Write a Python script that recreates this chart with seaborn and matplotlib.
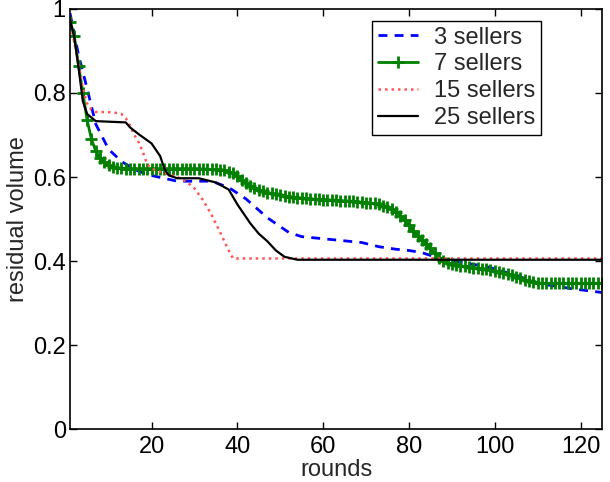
import numpy as np
import pandas as pd
import matplotlib
matplotlib.use("Agg")
import matplotlib.pyplot as plt
import seaborn as sns

# 3 sellers (blue dashed)
blue_rounds = [1, 2, 3, 5, 7, 10, 13, 16, 19, 22, 26, 34, 38, 42, 47, 50, 52, 55, 62,
               69, 73, 77, 80, 83, 86, 88, 92, 98, 102, 106, 111, 118, 125]
blue_vals = [0.99, 0.94, 0.89, 0.81, 0.726, 0.666, 0.637, 0.618, 0.606, 0.599, 0.59, 0.59,
             0.575, 0.548, 0.503, 0.482, 0.468, 0.458, 0.451, 0.444, 0.434, 0.428, 0.425,
             0.42, 0.41, 0.403, 0.397, 0.387, 0.375, 0.362, 0.345, 0.334, 0.325]

# 7 sellers (green, one marker per round)
green_vals = [
    0.97, 0.935, 0.865, 0.80, 0.735, 0.69, 0.662, 0.645, 0.635, 0.628,
    0.624, 0.622, 0.621, 0.620, 0.620, 0.620, 0.620, 0.620, 0.620, 0.620,
    0.620, 0.620, 0.620, 0.620, 0.620, 0.620, 0.620, 0.620, 0.620, 0.620,
    0.620, 0.619, 0.619, 0.618, 0.618, 0.617, 0.616, 0.613, 0.609, 0.602,
    0.594, 0.585, 0.578, 0.573, 0.569, 0.566, 0.563, 0.561, 0.559, 0.557,
    0.555, 0.553, 0.552, 0.551, 0.550, 0.549, 0.548, 0.547, 0.547, 0.546,
    0.546, 0.545, 0.545, 0.544, 0.543, 0.543, 0.542, 0.541, 0.540, 0.539,
    0.538, 0.537, 0.535, 0.532, 0.528, 0.523, 0.516, 0.507, 0.497, 0.485,
    0.472, 0.459, 0.449, 0.44, 0.43, 0.418, 0.407, 0.399, 0.395, 0.393,
    0.391, 0.389, 0.387, 0.386, 0.384, 0.383, 0.381, 0.380, 0.378, 0.376,
    0.374, 0.372, 0.369, 0.366, 0.363, 0.359, 0.355, 0.352, 0.349, 0.348,
    0.347, 0.347, 0.347, 0.347, 0.347, 0.347, 0.347, 0.347, 0.347, 0.347,
    0.347, 0.347, 0.347, 0.347, 0.347]
green_rounds = list(range(1, len(green_vals) + 1))

# 15 sellers (red dotted)
red_rounds = [1, 2, 3, 4, 5, 6, 7, 11, 13, 14, 15, 16, 17, 18, 19, 20, 22, 26, 28, 30,
              32, 34, 36, 38, 39, 125]
red_vals = [0.975, 0.92, 0.87, 0.81, 0.775, 0.76, 0.755, 0.754, 0.75, 0.74, 0.722, 0.70,
            0.683, 0.659, 0.63, 0.62, 0.612, 0.60, 0.59, 0.573, 0.545, 0.51, 0.468,
            0.425, 0.406, 0.406]

# 25 sellers (black solid)
black_rounds = [1, 2, 3, 4, 5, 7, 14, 15, 17, 20, 22, 23, 24, 26, 31, 33, 35, 38, 40,
                43, 45, 47, 49, 51, 54, 125]
black_vals = [0.976, 0.933, 0.86, 0.78, 0.75, 0.733, 0.73, 0.718, 0.702, 0.68, 0.65,
              0.62, 0.604, 0.597, 0.597, 0.592, 0.587, 0.57, 0.535, 0.49, 0.465, 0.447,
              0.425, 0.41, 0.403, 0.403]

sns.set_style("ticks")
plt.rcParams['font.family'] = ['Liberation Sans', 'DejaVu Sans']

fig = plt.figure(figsize=(6.1, 4.82), dpi=100)
ax = fig.add_axes([70 / 610, 53 / 482, 532 / 610, 420 / 482])

# draw with seaborn, then style each line directly
sns.lineplot(x=blue_rounds, y=blue_vals, ax=ax, color='#0000ff', label='3 sellers')
line = ax.lines[-1]
line.set_linestyle((0, (3.2, 2.6)))
line.set_linewidth(2)

sns.lineplot(x=green_rounds, y=green_vals, ax=ax, color='#008000', label='7 sellers')
line = ax.lines[-1]
line.set_linestyle('-')
line.set_linewidth(2)
line.set_marker('+')
line.set_markersize(8)
line.set_markeredgewidth(2)
line.set_markeredgecolor('#008000')

sns.lineplot(x=red_rounds, y=red_vals, ax=ax, color='#ff5555', label='15 sellers')
line = ax.lines[-1]
line.set_linestyle((0, (1, 1.6)))
line.set_linewidth(1.8)

sns.lineplot(x=black_rounds, y=black_vals, ax=ax, color='black', label='25 sellers')
line = ax.lines[-1]
line.set_linestyle('-')
line.set_linewidth(1.6)

ax.set_xlim(1, 125)
ax.set_ylim(0, 1)
ax.set_xticks([20, 40, 60, 80, 100, 120])
ax.set_yticks([0, 0.2, 0.4, 0.6, 0.8, 1])
ax.set_yticklabels(['0', '0.2', '0.4', '0.6', '0.8', '1'])
ax.tick_params(direction='in', length=5, width=1, labelsize=17, top=True, right=True,
               color='black', labelcolor='black', pad=3)
ax.tick_params(axis='x', pad=5)
for s in ax.spines.values():
    s.set_visible(True)
    s.set_color('black')
    s.set_linewidth(1.2)

ax.set_xlabel('rounds', fontsize=17, labelpad=1)
ax.set_ylabel('residual volume', fontsize=17, labelpad=3)

leg = ax.legend(loc='upper right', bbox_to_anchor=(0.885, 0.972), borderaxespad=0,
                fontsize=17, frameon=True, fancybox=False, handlelength=1.7,
                handletextpad=0.65, labelspacing=0.2, borderpad=0.25)
leg.get_frame().set_edgecolor('black')
leg.get_frame().set_linewidth(1.0)
leg.get_frame().set_alpha(1)

fig.savefig('out.png', dpi=100)
